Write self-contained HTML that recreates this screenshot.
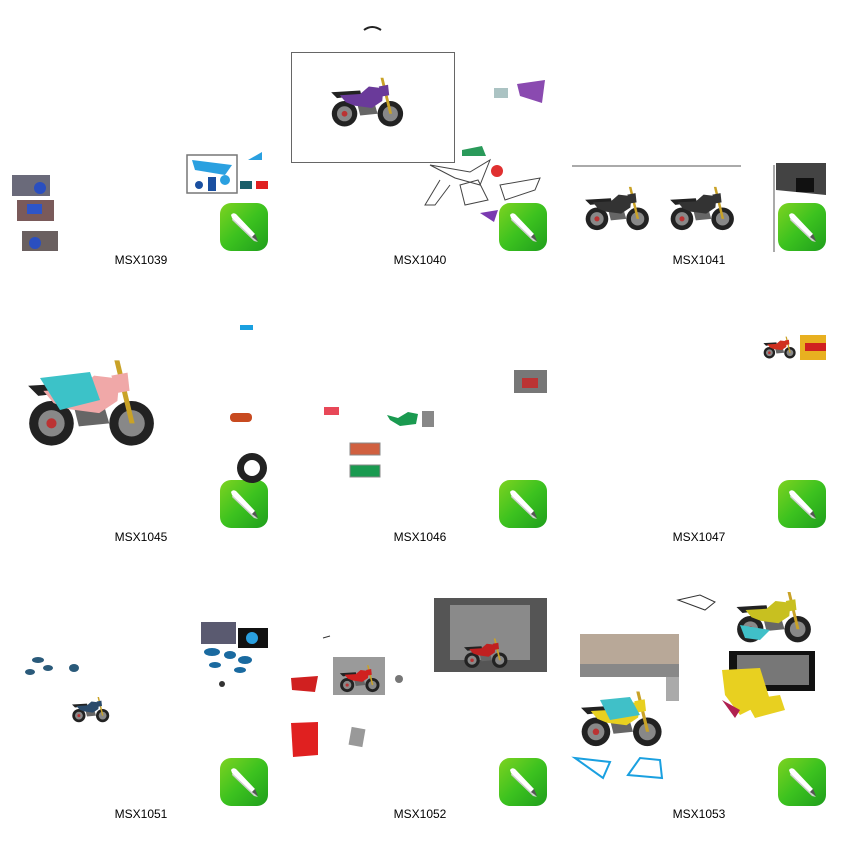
<!DOCTYPE html>
<html><head><meta charset="utf-8"><style>
html,body{margin:0;padding:0;background:#fff;width:845px;height:844px;overflow:hidden}
svg text{font-family:"Liberation Sans",sans-serif;font-size:12px;fill:#000}
</style></head><body>
<svg width="845" height="844" viewBox="0 0 845 844" xmlns="http://www.w3.org/2000/svg">
<defs>
<linearGradient id="g" x1="0" y1="0" x2="1" y2="1"><stop offset="0" stop-color="#7ed321"/><stop offset="0.5" stop-color="#3cc21f"/><stop offset="1" stop-color="#1f9e1c"/></linearGradient>
<symbol id="ic" viewBox="0 0 48 48">
<rect x="0" y="0" width="48" height="48" rx="11" fill="url(#g)"/>
<path d="M13 14 L35 36 L38 39 L34 38 L12 17 Z" fill="#cfcfcf"/>
<path d="M11 12 Q13 9 16 11 L35 31 L32 34 L12 15 Z" fill="#fff"/>
<path d="M32 34 L35 31 L38 38 Z" fill="#555"/>
</symbol>
<symbol id="bk" viewBox="0 0 140 100">
<circle cx="33" cy="72" r="22" fill="#222"/><circle cx="33" cy="72" r="13" fill="#888"/><circle cx="33" cy="72" r="5" fill="#b33"/>
<circle cx="112" cy="72" r="22" fill="#222"/><circle cx="112" cy="72" r="13" fill="#888"/>
<path d="M55 55 L85 55 L90 72 L60 75 Z" fill="#666"/>
<path d="M10 35 L60 32 L62 40 L20 45 Z" fill="#222"/>
<path d="M25 40 L60 38 L75 25 L100 28 L98 50 L80 62 L50 58 L35 52 Z" fill="currentColor"/>
<path d="M95 10 L100 10 L115 72 L110 72 Z" fill="#c9a227"/>
<path d="M92 25 L108 22 L110 40 L98 42 Z" fill="currentColor"/>
</symbol>
</defs>

<!-- icons -->
<use href="#ic" x="220" y="203" width="48" height="48"/>
<use href="#ic" x="499" y="203" width="48" height="48"/>
<use href="#ic" x="778" y="203" width="48" height="48"/>
<use href="#ic" x="220" y="480" width="48" height="48"/>
<use href="#ic" x="499" y="480" width="48" height="48"/>
<use href="#ic" x="778" y="480" width="48" height="48"/>
<use href="#ic" x="220" y="758" width="48" height="48"/>
<use href="#ic" x="499" y="758" width="48" height="48"/>
<use href="#ic" x="778" y="758" width="48" height="48"/>

<!-- labels -->
<g text-anchor="middle">
<text x="141" y="264">MSX1039</text><text x="420" y="264">MSX1040</text><text x="699" y="264">MSX1041</text>
<text x="141" y="541">MSX1045</text><text x="420" y="541">MSX1046</text><text x="699" y="541">MSX1047</text>
<text x="141" y="818">MSX1051</text><text x="420" y="818">MSX1052</text><text x="699" y="818">MSX1053</text>
</g>

<!-- 1039 -->
<rect x="12" y="175" width="38" height="21" fill="#6a6a7a"/><circle cx="40" cy="188" r="6" fill="#2a4fc0"/>
<rect x="17" y="200" width="37" height="21" fill="#7a5a5a"/><rect x="27" y="204" width="15" height="10" fill="#2e55c8"/>
<rect x="22" y="231" width="36" height="20" fill="#6a6060"/><circle cx="35" cy="243" r="6" fill="#2a4fc0"/>
<rect x="187" y="155" width="50" height="38" fill="#fff" stroke="#777" stroke-width="1.5"/>
<path d="M192 160 L232 165 L225 175 L195 170 Z" fill="#2aa0e0"/><rect x="208" y="177" width="8" height="14" fill="#1a4fa0"/><circle cx="199" cy="185" r="4" fill="#1a4fa0"/><circle cx="225" cy="180" r="5" fill="#2aa0e0"/>
<path d="M248 160 L262 152 L262 160 Z" fill="#2aa0e0"/>
<rect x="240" y="181" width="12" height="8" fill="#1a5f6a"/><rect x="256" y="181" width="12" height="8" fill="#e02020"/>

<!-- 1040 -->
<path d="M364 30 Q372 24 381 30" stroke="#222" stroke-width="2" fill="none"/>
<rect x="291.5" y="52.5" width="163" height="110" fill="#fff" stroke="#666"/>
<use href="#bk" x="325" y="72" width="82" height="58" color="#6a3a9a"/>
<path d="M517 84 L545 80 L542 103 L520 96 Z" fill="#8a4ab0"/>
<rect x="494" y="88" width="14" height="10" fill="#8aa" opacity=".7"/>
<path d="M462 150 L482 146 L486 156 L462 156 Z" fill="#2a9a5a"/>
<g stroke="#444" fill="none" stroke-width="1">
<path d="M430 165 L470 172 L490 160 L480 185 L455 178 Z"/><path d="M440 180 L425 205 L435 205 L450 185"/>
<path d="M460 185 L478 180 L488 200 L465 205 Z"/><path d="M500 185 L540 178 L535 190 L505 200 Z"/>
</g>
<circle cx="497" cy="171" r="6" fill="#e03030"/>
<path d="M480 213 L498 210 L494 222 Z" fill="#7a3ab0"/>

<!-- 1041 -->
<line x1="572" y1="166" x2="741" y2="166" stroke="#555"/>
<use href="#bk" x="580" y="180" width="72" height="55" color="#333"/>
<use href="#bk" x="665" y="180" width="72" height="55" color="#333"/>
<line x1="774" y1="165" x2="774" y2="252" stroke="#555"/>
<path d="M776 163 L826 163 L826 195 L776 190 Z" fill="#222" opacity=".85"/>
<rect x="796" y="178" width="18" height="14" fill="#111"/>

<!-- 1045 -->
<use href="#bk" x="18" y="350" width="142" height="102" color="#f0a8a8"/>
<path d="M40 378 L90 372 L100 400 L60 410 Z" fill="#3cc2c8"/>
<rect x="240" y="325" width="13" height="5" fill="#1aa0e0"/>
<rect x="230" y="413" width="22" height="9" rx="4" fill="#c84a20"/>
<circle cx="252" cy="468" r="15" fill="#222"/><circle cx="252" cy="468" r="8" fill="#fff"/>

<!-- 1046 -->
<rect x="514" y="370" width="33" height="23" fill="#777"/><rect x="522" y="378" width="16" height="10" fill="#b33"/>
<rect x="324" y="407" width="15" height="8" fill="#e84858"/>
<path d="M387 415 L398 418 L408 412 L418 414 L416 424 L400 426 L390 420 Z" fill="#1a9a50"/>
<rect x="422" y="411" width="12" height="16" fill="#888"/>
<rect x="350" y="443" width="30" height="12" fill="#d06040" stroke="#888"/>
<rect x="350" y="465" width="30" height="12" fill="#1a9a50" stroke="#888"/>

<!-- 1047 -->
<use href="#bk" x="760" y="334" width="38" height="26" color="#d03020"/>
<rect x="800" y="335" width="26" height="25" fill="#e8b020"/><rect x="805" y="343" width="21" height="8" fill="#d02020"/>

<!-- 1051 -->
<rect x="201" y="622" width="35" height="22" fill="#5a5a70"/>
<rect x="238" y="628" width="30" height="20" fill="#111"/><circle cx="252" cy="638" r="6" fill="#2aa0e0"/>
<g fill="#1a6aa0"><ellipse cx="212" cy="652" rx="8" ry="4"/><ellipse cx="230" cy="655" rx="6" ry="4"/><ellipse cx="245" cy="660" rx="7" ry="4"/><ellipse cx="215" cy="665" rx="6" ry="3"/><ellipse cx="240" cy="670" rx="6" ry="3"/></g>
<circle cx="222" cy="684" r="3" fill="#333"/>
<g fill="#2a5a7a"><ellipse cx="38" cy="660" rx="6" ry="3"/><ellipse cx="30" cy="672" rx="5" ry="3"/><ellipse cx="48" cy="668" rx="5" ry="3"/><ellipse cx="74" cy="668" rx="5" ry="4"/></g>
<use href="#bk" x="67" y="694" width="46" height="30" color="#2a4a6a"/>

<!-- 1052 -->
<rect x="434" y="598" width="113" height="74" fill="#555"/>
<rect x="450" y="605" width="80" height="55" fill="#8a8a8a"/>
<use href="#bk" x="460" y="635" width="50" height="35" color="#c02020"/>
<rect x="333" y="657" width="52" height="38" fill="#9a9a9a"/>
<use href="#bk" x="336" y="662" width="46" height="32" color="#d02020"/>
<path d="M291 678 L318 676 L315 692 L292 690 Z" fill="#d02020"/>
<circle cx="399" cy="679" r="4" fill="#777"/>
<path d="M291 723 L318 722 L318 755 L293 757 Z" fill="#e02020"/>
<rect x="350" y="728" width="14" height="18" fill="#999" transform="rotate(10 357 737)"/>
<line x1="323" y1="638" x2="330" y2="636" stroke="#333"/>

<!-- 1053 -->
<path d="M678 600 L700 595 L715 602 L705 610 Z" fill="none" stroke="#333"/>
<use href="#bk" x="726" y="586" width="93" height="60" color="#c8c020"/>
<path d="M740 625 L770 630 L760 640 L745 638 Z" fill="#40c0c8"/>
<rect x="580" y="634" width="99" height="43" fill="#b8a898"/>
<rect x="580" y="664" width="99" height="13" fill="#888"/>
<rect x="666" y="677" width="13" height="24" fill="#aaa"/>
<use href="#bk" x="572" y="685" width="96" height="65" color="#e8d020"/>
<path d="M600 700 L630 697 L640 715 L610 720 Z" fill="#40c0c8"/>
<rect x="729" y="651" width="86" height="40" fill="#111"/>
<rect x="737" y="655" width="72" height="30" fill="#777"/>
<path d="M722 670 L760 668 L770 700 L740 715 L725 695 Z" fill="#e8d020"/>
<path d="M722 700 L740 710 L735 718 Z" fill="#b02050"/>
<path d="M745 700 L780 695 L785 710 L755 718 Z" fill="#e8d020"/>
<path d="M575 758 L610 762 L603 778 Z" fill="none" stroke="#1aa0e0" stroke-width="2"/>
<path d="M628 775 L640 758 L660 760 L662 778 Z" fill="none" stroke="#1aa0e0" stroke-width="2"/>
</svg>
</body></html>
